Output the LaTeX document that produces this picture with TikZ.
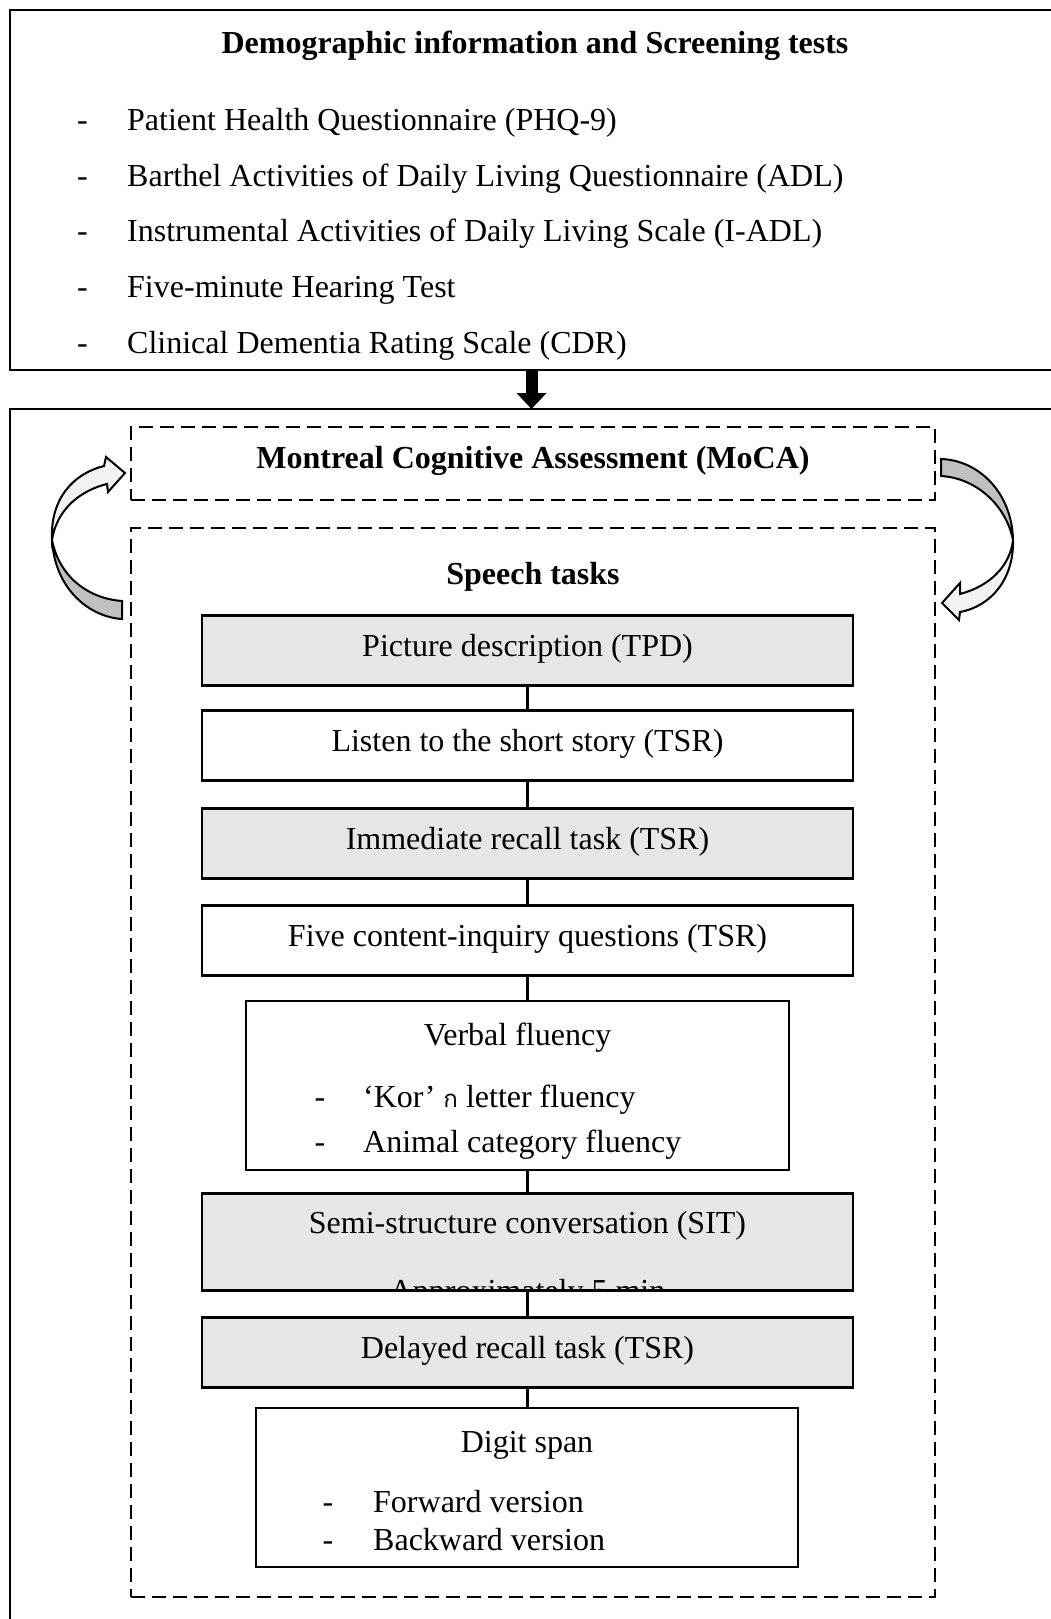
\documentclass[tikz,border=0pt]{standalone}
\usepackage{fontspec}
\setmainfont{Liberation Serif}
\newfontfamily\thaifont[Script=Thai]{Loma}
\usetikzlibrary{arrows.meta}
\definecolor{boxgray}{RGB}{230,230,230}
\definecolor{backgray}{RGB}{192,192,192}
\definecolor{frontgray}{RGB}{242,242,242}

\begin{document}
\begin{tikzpicture}[x=1pt,y=-1pt,
  every node/.style={font=\fontsize{32}{38}\selectfont},
  frame/.style={draw, line width=2.4pt, inner sep=0pt, outer sep=0pt, anchor=north west},
  dashbox/.style={draw, line width=2pt, dash pattern=on 14pt off 7pt, inner sep=0pt, outer sep=0pt},
  taskbox/.style={draw, line width=2.6pt, minimum width=651pt, minimum height=70pt, inner sep=0pt, outer sep=0pt},
  shaded/.style={fill=boxgray},
  txt/.style={anchor=base, inner sep=0pt},
  heading/.style={anchor=base, inner sep=0pt, font=\fontsize{32}{38}\selectfont\bfseries},
  item/.style={anchor=base west, inner sep=0pt},
  link/.style={line width=2.5pt},
  curl/.style={line width=2pt, line join=miter}
]
\useasboundingbox (0,0) rectangle (1050,1619);

% ---- screening block ----
\node[frame, minimum width=1060pt, minimum height=360pt] (demo) at (10,10) {};
\node[heading] (demotitle) at (535,53.5) {Demographic information and Screening tests};
\foreach \y/\t [count=\i] in {130.5/Patient Health Questionnaire (PHQ-9),
  186/Barthel Activities of Daily Living Questionnaire (ADL),
  241.5/Instrumental Activities of Daily Living Scale (I-ADL),
  297.5/Five-minute Hearing Test,
  353.5/Clinical Dementia Rating Scale (CDR)} {
  \node[txt] (dd\i) at (82.5,\y) {-};
  \node[item] (di\i) at (127,\y) {\t};
}

% ---- assessment block ----
\node[frame, minimum width=1060pt, minimum height=1240pt] (session) at (10,409) {};
\draw[line width=12pt, -{Triangle[length=16pt,width=29pt]}]
  ([xshift=-8.5pt]demo.south) -- ([xshift=-8.5pt]demo.south |- session.north);

\node[dashbox, minimum width=804pt, minimum height=73pt] (moca) at (533,463.5) {};
\node[heading] (mocatext) at (533,468.5) {Montreal Cognitive Assessment (MoCA)};

\node[dashbox, minimum width=804pt, minimum height=1069pt] (speech) at (533,1062.5) {};
\node[heading] (speechtext) at (533,584.5) {Speech tasks};

% ---- task boxes ----
\node[taskbox, shaded] (tpd) at (527.5,650.5) {};
\node[txt] (tpdtext) at (527.5,656.5) {Picture description (TPD)};

\node[taskbox] (listen) at (527.5,745.5) {};
\node[txt] (listentext) at (527.5,751.5) {Listen to the short story (TSR)};

\node[taskbox, shaded] (immediate) at (527.5,843.5) {};
\node[txt] (immediatetext) at (527.5,849.5) {Immediate recall task (TSR)};

\node[taskbox] (questions) at (527.5,940.5) {};
\node[txt] (questionstext) at (527.5,946.5) {Five content-inquiry questions (TSR)};

\node[taskbox, minimum width=543pt, minimum height=169pt] (verbal) at (517.5,1085.5) {};
\node[txt] (verbaltext) at (517.5,1045.5) {Verbal fluency};
\node[txt] (vd1) at (320,1107.5) {-};
\node[item] (vi1) at (363,1107.5) {‘Kor’ {\thaifont\fontsize{24}{28}\selectfont ก} letter fluency};
\node[txt] (vd2) at (320,1152.5) {-};
\node[item] (vi2) at (363,1152.5) {Animal category fluency};

\node[taskbox, shaded, minimum height=97pt] (sit) at (527.5,1242) {};
\node[txt] (sittext) at (527.5,1233.5) {Semi-structure conversation (SIT)};
\begin{scope}
  \clip ([shift={(1.3pt,1.3pt)}]sit.south west) rectangle ([shift={(-1.3pt,-1.3pt)}]sit.north east);
  \node[txt] (sitnote) at (527.5,1301) {Approximately 5 min};
\end{scope}

\node[taskbox, shaded] (delayed) at (527.5,1352.5) {};
\node[txt] (delayedtext) at (527.5,1358.5) {Delayed recall task (TSR)};

\node[taskbox, minimum width=542pt, minimum height=159pt] (digit) at (527,1487.5) {};
\node[txt] (digittext) at (527,1452.5) {Digit span};
\node[txt] (gd1) at (328,1512.5) {-};
\node[item] (gi1) at (373,1512.5) {Forward version};
\node[txt] (gd2) at (328,1550.5) {-};
\node[item] (gi2) at (373,1550.5) {Backward version};

% ---- connectors between tasks ----
\draw[link] (tpd.south) -- (listen.north);
\draw[link] (listen.south) -- (immediate.north);
\draw[link] (immediate.south) -- (questions.north);
\draw[link] (questions.south) -- (questions.south |- verbal.north);
\draw[link] (questions.south |- verbal.south) -- (sit.north);
\draw[link] (sit.south) -- (delayed.north);
\draw[link] (delayed.south) -- (delayed.south |- digit.north);

% ---- curved arrows around the MoCA / speech block ----
% left: from the speech tasks back up to the MoCA
\filldraw[curl, fill=backgray]
  (52,540) .. controls (55,590) and (90,617) .. (122,619) -- (122,601)
  .. controls (92,599) and (60,580) .. (52,540) -- cycle;
\filldraw[curl, fill=frontgray]
  (52,540) .. controls (50,500) and (72,474) .. (104,466) -- (106,457) -- (125,473)
  -- (108,492) -- (107,484) .. controls (82,490) and (57,508) .. (52,540) -- cycle;
% right: from the MoCA down to the speech tasks
\filldraw[curl, fill=backgray]
  (941,459) .. controls (978,460) and (1012,492) .. (1013,540)
  .. controls (1006,505) and (976,478) .. (941,476) -- cycle;
\filldraw[curl, fill=frontgray]
  (1013,540) .. controls (1014,578) and (992,606) .. (960,612) -- (959,620) -- (942,603)
  -- (960,583) -- (960,594) .. controls (990,586) and (1010,566) .. (1013,540) -- cycle;
\end{tikzpicture}
\end{document}
